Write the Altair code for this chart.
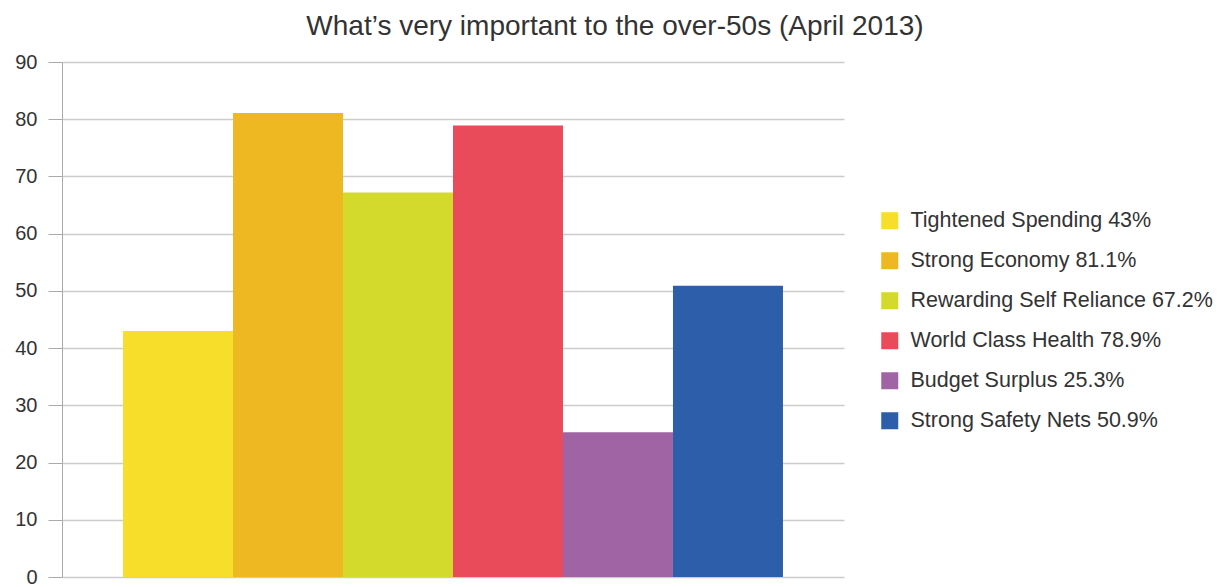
import altair as alt
import pandas as pd

categories = ["Tightened Spending 43%", "Strong Economy 81.1%", "Rewarding Self Reliance 67.2%",
              "World Class Health 78.9%", "Budget Surplus 25.3%", "Strong Safety Nets 50.9%"]
values = [43, 81.1, 67.2, 78.9, 25.3, 50.9]
colors = ["#F7DE2A", "#EEB822", "#D4DA2C", "#E94B5B", "#A064A5", "#2C5EA9"]
y_ticks = [0, 10, 20, 30, 40, 50, 60, 70, 80, 90]

df = pd.DataFrame({"series": categories, "value": values})

FONT = "Liberation Sans"

chart = alt.Chart(df).mark_bar().encode(
    x=alt.X("series:N", sort=categories,
            scale=alt.Scale(paddingInner=0, paddingOuter=0.555),
            axis=None),
    y=alt.Y("value:Q", scale=alt.Scale(domain=[0, 90], nice=False),
            axis=alt.Axis(values=y_ticks, title=None, tickSize=14, labelPadding=11,
                          labelFontSize=20, labelColor="#333333", labelFont=FONT,
                          domainColor="#aaaaaa", tickColor="#aaaaaa",
                          gridColor="#cccccc", gridWidth=1.5)),
    color=alt.Color("series:N", sort=categories,
                    scale=alt.Scale(domain=categories, range=colors),
                    legend=alt.Legend(title=None, orient="none", legendX=817, legendY=148,
                                      symbolType="square", symbolSize=289, symbolStrokeWidth=0,
                                      labelFontSize=21.5, labelFont=FONT, labelColor="#333333",
                                      labelOffset=10, rowPadding=17, padding=0,
                                      labelLimit=400))
).properties(
    width=782, height=515,
    title=alt.TitleParams("What’s very important to the over-50s (April 2013)",
                          fontSize=28, font=FONT, fontWeight="normal", color="#333333",
                          anchor="middle", dx=162, offset=11),
    autosize=alt.AutoSizeParams(type="none"),
    padding={"left": 62, "top": 62, "right": 385, "bottom": 10}
).configure_view(stroke=None)

chart.save("out.html", embed_options={"renderer": "svg", "actions": False})
